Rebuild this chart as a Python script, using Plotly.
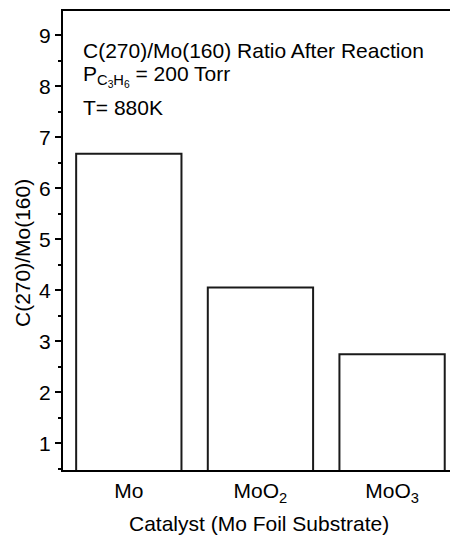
import plotly.graph_objects as go

categories = ["Mo", "MoO<sub>2</sub>", "MoO<sub>3</sub>"]
ratios = [6.68, 4.06, 2.75]
y_ticks = [1, 2, 3, 4, 5, 6, 7, 8, 9]

FONT = "Liberation Sans, Arial, sans-serif"

fig = go.Figure()
fig.add_trace(go.Bar(
    x=list(range(len(categories))), y=ratios,
    marker=dict(color="white", line=dict(color="#1a1a1a", width=2)),
    width=0.8, base=0, showlegend=False,
))

PW, PH = 387, 459

fig.update_layout(
    width=450, height=538,
    margin=dict(l=63, r=0, t=11, b=68),
    paper_bgcolor="white", plot_bgcolor="white",
    font=dict(family=FONT, size=20, color="black"),
    xaxis=dict(
        range=[-0.5, 2.44], tickvals=[0, 1, 2], ticktext=categories,
        showline=True, linecolor="black", linewidth=2, mirror=True,
        ticks="", showgrid=False, zeroline=False,
        tickfont=dict(size=21), ticklabelstandoff=1,
    ),
    yaxis=dict(
        range=[0.48, 9.48], tickvals=y_ticks,
        showline=True, linecolor="black", linewidth=2, mirror=False,
        ticks="outside", ticklen=6, tickwidth=1.5, tickcolor="black",
        minor=dict(dtick=0.5, tick0=0.5, ticks="outside", ticklen=3, tickwidth=1.5, tickcolor="black"),
        showgrid=False, zeroline=False, tickfont=dict(size=21),
    ),
)

fig.add_annotation(xref="paper", yref="paper", x=(22 - 63) / PW, y=(470 - 253) / PH,
                   text="C(270)/Mo(160)", textangle=-90, showarrow=False,
                   xanchor="center", yanchor="middle", font=dict(size=21))
fig.add_annotation(xref="paper", yref="paper", x=(259 - 63) / PW, y=-(523 - 470) / PH,
                   text="Catalyst (Mo Foil Substrate)", showarrow=False,
                   xanchor="center", yanchor="middle", font=dict(size=21))

lines = [
    ("C(270)/Mo(160) Ratio After Reaction", 50),
    ("P<sub>C<sub>3</sub>H<sub>6</sub></sub> = 200 Torr", 76),
    ("T= 880K", 108),
]
for txt, ypx in lines:
    fig.add_annotation(xref="paper", yref="paper", x=(81 - 63) / PW, y=(470 - ypx) / PH,
                       text=txt, showarrow=False, xanchor="left", yanchor="middle",
                       font=dict(size=21))

fig.write_html("out.html")
